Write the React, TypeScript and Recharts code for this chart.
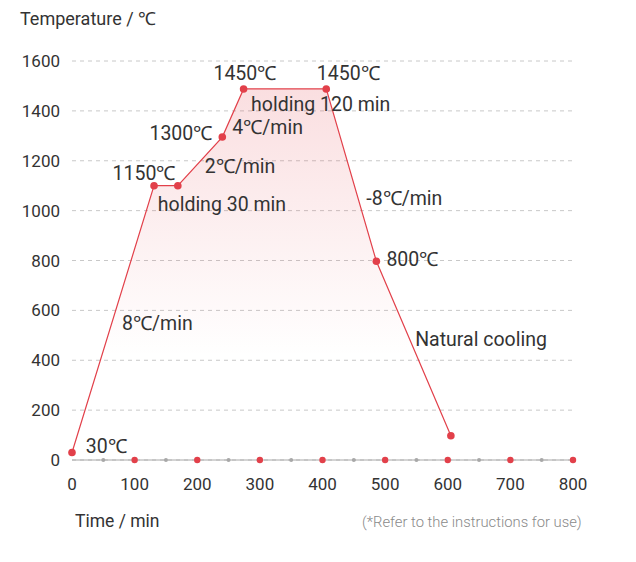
import React from 'react';
import {
  ComposedChart,
  Area,
  Scatter,
  XAxis,
  YAxis,
  CartesianGrid,
  ReferenceDot,
} from 'recharts';

// firing profile
const timeMin = [0, 131, 169, 240, 274, 406, 486, 605];
const tempC = [30, 1100, 1100, 1295, 1488, 1488, 797, 97];

const xTicks = [0, 100, 200, 300, 400, 500, 600, 700, 800];
const yTicks = [0, 200, 400, 600, 800, 1000, 1200, 1400, 1600];

// decorative markers sitting on the time axis
const axisRedX = [100, 200, 300, 400, 500, 600, 700, 800];
const axisGreyX = [50, 150, 250, 350, 450, 550, 650, 750];

// annotation texts with their anchor in data units
const noteText = [
  '1450℃', '1450℃', 'holding 120 min', '1300℃', '4℃/min', '2℃/min',
  '1150℃', 'holding 30 min', '-8℃/min', '800℃', 'Natural cooling', '8℃/min', '30℃',
];
const noteX = [276, 441, 286, 224, 256, 212, 115, 137, 470, 502, 548, 80, 22];
const noteY = [1553, 1553, 1428, 1312, 1337, 1181, 1152, 1028, 1052, 807, 486, 550, 57];
const noteAnchor = [
  'middle', 'middle', 'start', 'end', 'start', 'start',
  'middle', 'start', 'start', 'start', 'start', 'start', 'start',
];

const profile = timeMin.map((t, i) => ({ t, temp: tempC[i] }));
const axisRed = axisRedX.map((t) => ({ t, v: 0 }));
const axisGrey = axisGreyX.map((t) => ({ t, v: 0 }));

const RED = '#e2404a';
const TEXT = '#333333';
const FONT = 'Roboto, sans-serif';

const App: React.FC = () => {
  return (
    <div style={{ position: 'absolute', left: 0, top: 0, width: 636, height: 562, background: '#fff', fontFamily: FONT }}>
      <div style={{ position: 'absolute', left: 20, top: 6, fontSize: 18, color: TEXT }}>Temperature / ℃</div>
      <div style={{ position: 'absolute', left: 75, top: 511, fontSize: 17.5, color: TEXT }}>Time / min</div>
      <div style={{ position: 'absolute', left: 362, top: 513, fontSize: 14.8, color: '#8a8a8a', fontWeight: 300 }}>
        (*Refer to the instructions for use)
      </div>
      <ComposedChart
        width={636}
        height={562}
        data={profile}
        margin={{ top: 61, right: 63, left: 12, bottom: 72 }}
        style={{ position: 'absolute', left: 0, top: 0 }}
      >
        <defs>
          <linearGradient id="heatFill" x1="0" y1="0" x2="0" y2="1">
            <stop offset="0%" stopColor={RED} stopOpacity={0.17} />
            <stop offset="72%" stopColor={RED} stopOpacity={0} />
            <stop offset="100%" stopColor={RED} stopOpacity={0} />
          </linearGradient>
        </defs>
        <CartesianGrid vertical={false} stroke="#c8c8c8" strokeDasharray="4 4" />
        <XAxis
          type="number"
          dataKey="t"
          domain={[0, 800]}
          ticks={xTicks}
          height={30}
          axisLine={{ stroke: '#a8a8a8' }}
          tickLine={false}
          tickMargin={12}
          tick={{ fill: TEXT, fontSize: 17, fontFamily: FONT }}
        />
        <YAxis
          type="number"
          domain={[0, 1600]}
          ticks={yTicks}
          width={60}
          axisLine={false}
          tickLine={false}
          tickMargin={6}
          tick={{ fill: TEXT, fontSize: 17, fontFamily: FONT }}
        />
        <Area
          type="linear"
          dataKey="temp"
          stroke={RED}
          strokeWidth={1.2}
          fill="url(#heatFill)"
          fillOpacity={1}
          dot={{ r: 3.8, fill: RED, stroke: 'none' }}
          activeDot={false}
          isAnimationActive={false}
        />
        <Scatter data={axisGrey} dataKey="v" fill="#a8a8a8" shape={(p: any) => <circle cx={p.cx} cy={p.cy} r={2} fill="#a8a8a8" />} isAnimationActive={false} />
        <Scatter data={axisRed} dataKey="v" fill={RED} shape={(p: any) => <circle cx={p.cx} cy={p.cy} r={3.2} fill={RED} />} isAnimationActive={false} />
        {noteText.map((txt, i) => (
          <ReferenceDot
            key={i}
            x={noteX[i]}
            y={noteY[i]}
            r={0}
            ifOverflow="visible"
            shape={(p: any) => (
              <text
                x={p.cx}
                y={p.cy}
                dy="0.36em"
                textAnchor={noteAnchor[i] as any}
                fill={TEXT}
                fontSize={19.5}
                fontFamily={FONT}
              >
                {txt}
              </text>
            )}
          />
        ))}
      </ComposedChart>
    </div>
  );
};

export default App;
